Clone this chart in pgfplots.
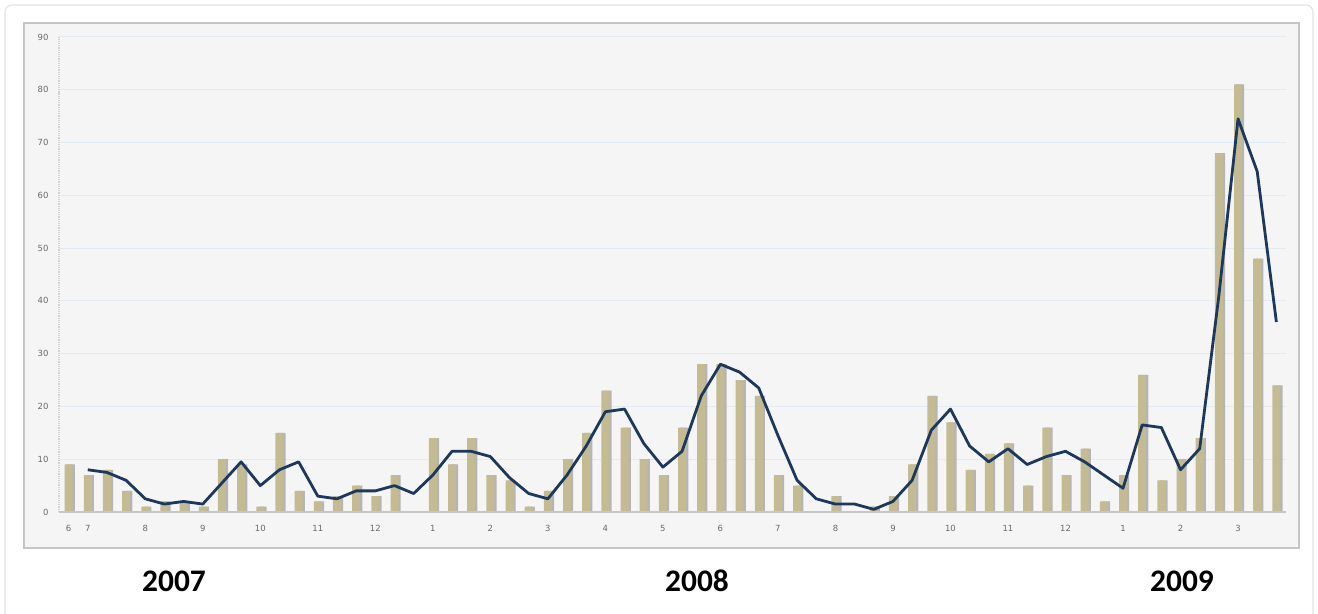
\documentclass[border=0pt]{standalone}
\usepackage{fontspec}
\setmainfont{Carlito}
\newfontfamily\tickfont{DejaVu Sans}
\usepackage{pgfplots}
\usepackage{pgfplotstable}
\pgfplotsset{compat=1.18}
\definecolor{barc}{RGB}{196,187,147}
\definecolor{shadowc}{RGB}{160,160,160}
\definecolor{linec}{RGB}{28,56,92}
\definecolor{panel}{RGB}{245,245,245}
\definecolor{panelborder}{RGB}{198,198,198}
\definecolor{outerborder}{RGB}{228,228,228}
\definecolor{gridc}{RGB}{226,234,243}
\definecolor{tickc}{RGB}{105,105,105}

\pgfplotstableread{
x y
0 9
1 7
2 8
3 4
4 1
5 2
6 2
7 1
8 10
9 9
10 1
11 15
12 4
13 2
14 3
15 5
16 3
17 7
18 0
19 14
20 9
21 14
22 7
23 6
24 1
25 4
26 10
27 15
28 23
29 16
30 10
31 7
32 16
33 28
34 28
35 25
36 22
37 7
38 5
39 0
40 3
41 0
42 1
43 3
44 9
45 22
46 17
47 8
48 11
49 13
50 5
51 16
52 7
53 12
54 2
55 7
56 26
57 6
58 10
59 14
60 68
61 81
62 48
63 24
}\bars

\pgfplotstableread{
x y
1 8
2 7.5
3 6
4 2.5
5 1.5
6 2
7 1.5
8 5.5
9 9.5
10 5
11 8
12 9.5
13 3
14 2.5
15 4
16 4
17 5
18 3.5
19 7
20 11.5
21 11.5
22 10.5
23 6.5
24 3.5
25 2.5
26 7
27 12.5
28 19
29 19.5
30 13
31 8.5
32 11.5
33 22
34 28
35 26.5
36 23.5
37 14.5
38 6
39 2.5
40 1.5
41 1.5
42 0.5
43 2
44 6
45 15.5
46 19.5
47 12.5
48 9.5
49 12
50 9
51 10.5
52 11.5
53 9.5
54 7
55 4.5
56 16.5
57 16
58 8
59 12
60 41
61 74.5
62 64.5
63 36
}\avg

\begin{document}
\begin{tikzpicture}[x=1bp,y=1bp]
\useasboundingbox (0,0) rectangle (1318,614);
\fill[white] (0,0) rectangle (1318,614);
\begin{scope}
\clip (0,0) rectangle (1318,614);
\draw[outerborder, line width=1.2bp, rounded corners=7bp] (5,-20) rectangle (1313,609);
\end{scope}
\draw[panelborder, fill=panel, line width=2bp] (24,66) rectangle (1299,591);
\begin{axis}[
  at={(59bp,102bp)}, anchor=south west,
  scale only axis, width=1227bp, height=475bp,
  xmin=-0.5, xmax=63.5, ymin=0, ymax=90,
  ytick={0,10,...,90},
  xtick={0,1,4,7,10,13,16,19,22,25,28,31,34,37,40,43,46,49,52,55,58,61},
  xticklabels={6,7,8,9,10,11,12,1,2,3,4,5,6,7,8,9,10,11,12,1,2,3},
  axis line style={draw=none},
  major tick length=0pt,
  tick style={draw=none},
  ymajorgrids,
  grid style={gridc, line width=1bp},
  /pgf/number format/assume math mode=true,
  ticklabel style={font=\tickfont\fontsize{8.5}{10}\selectfont, text=tickc},
  yticklabel style={xshift=-7bp},
  xticklabel style={yshift=-10bp},
  clip=false,
]
\draw[gray!35, densely dotted, line width=1.2bp] (axis cs:-0.5,0) -- (axis cs:-0.5,90);
\addplot[ybar, bar width=8bp, bar shift=2.2bp, fill=shadowc, draw=none, opacity=0.75] table {\bars};
\addplot[ybar, bar width=8bp, bar shift=0bp, fill=barc, draw=none] table {\bars};
\draw[gray!45, line width=1.6bp] (axis cs:-0.5,0) -- (axis cs:63.5,0);
\addplot[linec, line width=2.8bp, line join=round, mark=none] table {\avg};
\end{axis}
\node[anchor=base, font=\bfseries\fontsize{31.5}{34}\selectfont] at (174,22) {2007};
\node[anchor=base, font=\bfseries\fontsize{31.5}{34}\selectfont] at (697,22) {2008};
\node[anchor=base, font=\bfseries\fontsize{31.5}{34}\selectfont] at (1182,22) {2009};
\end{tikzpicture}
\end{document}
